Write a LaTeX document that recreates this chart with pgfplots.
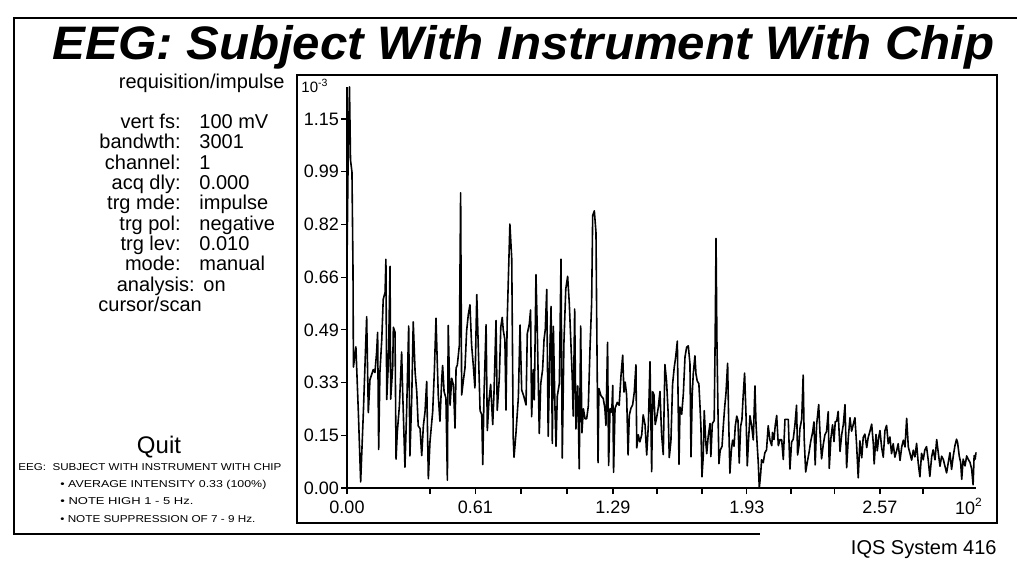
\documentclass[border=0pt]{standalone}
\usepackage{fontspec}
\setmainfont{Liberation Sans}
\newfontfamily\titlefont{Liberation Sans Bold Italic}
\usepackage{pgfplots}
\usepackage{pgfplotstable}
\pgfplotsset{compat=1.18}

% spectrum trace (x in axis units, y in units of 10^-3)
\pgfplotstableread{
x y
0.000 0.700
0.005 1.000
0.012 1.250
0.017 1.022
0.024 0.985
0.029 0.680
0.031 0.377
0.043 0.440
0.055 0.234
0.066 0.019
0.079 0.235
0.095 0.534
0.103 0.235
0.111 0.338
0.127 0.369
0.135 0.360
0.143 0.422
0.148 0.485
0.153 0.120
0.159 0.360
0.168 0.463
0.175 0.588
0.184 0.610
0.188 0.713
0.192 0.276
0.200 0.392
0.208 0.691
0.211 0.277
0.221 0.380
0.224 0.501
0.232 0.486
0.237 0.090
0.243 0.174
0.253 0.255
0.264 0.424
0.269 0.299
0.280 0.065
0.288 0.237
0.298 0.505
0.304 0.100
0.313 0.287
0.320 0.518
0.329 0.362
0.337 0.300
0.344 0.194
0.353 0.185
0.361 0.101
0.369 0.194
0.377 0.238
0.385 0.332
0.393 0.029
0.401 0.145
0.414 0.238
0.422 0.363
0.430 0.529
0.436 0.395
0.441 0.289
0.449 0.208
0.458 0.342
0.462 0.382
0.469 0.301
0.478 0.280
0.485 0.024
0.489 0.507
0.498 0.258
0.506 0.342
0.514 0.321
0.522 0.187
0.527 0.374
0.533 0.383
0.543 0.446
0.549 0.920
0.554 0.290
0.562 0.334
0.570 0.374
0.578 0.490
0.586 0.540
0.594 0.571
0.602 0.446
0.610 0.384
0.618 0.312
0.627 0.603
0.634 0.447
0.643 0.241
0.651 0.229
0.656 0.073
0.662 0.291
0.672 0.509
0.678 0.179
0.686 0.273
0.694 0.323
0.704 0.198
0.710 0.292
0.720 0.522
0.726 0.242
0.736 0.345
0.743 0.501
0.750 0.532
0.755 0.492
0.763 0.461
0.768 0.243
0.774 0.523
0.787 0.823
0.796 0.714
0.800 0.399
0.803 0.159
0.807 0.096
0.816 0.168
0.828 0.284
0.836 0.508
0.844 0.306
0.855 0.284
0.865 0.259
0.871 0.481
0.881 0.512
0.887 0.555
0.892 0.222
0.900 0.369
0.905 0.275
0.913 0.665
0.919 0.503
0.929 0.170
0.936 0.325
0.945 0.369
0.952 0.463
0.958 0.494
0.965 0.619
0.972 0.161
0.981 0.451
0.986 0.566
0.992 0.139
0.997 0.504
1.005 0.245
1.010 0.130
1.016 0.286
1.026 0.326
1.034 0.713
1.040 0.093
1.048 0.451
1.057 0.620
1.066 0.660
1.074 0.576
1.081 0.464
1.088 0.349
1.093 0.224
1.100 0.558
1.106 0.184
1.115 0.318
1.122 0.060
1.129 0.505
1.135 0.172
1.142 0.247
1.150 0.216
1.158 0.216
1.166 0.256
1.174 0.434
1.182 0.578
1.187 0.849
1.195 0.864
1.203 0.796
1.206 0.559
1.209 0.350
1.213 0.079
1.217 0.310
1.227 0.288
1.238 0.279
1.246 0.248
1.251 0.195
1.259 0.454
1.264 0.070
1.271 0.248
1.279 0.236
1.284 0.320
1.288 0.049
1.295 0.248
1.306 0.267
1.315 0.258
1.324 0.352
1.332 0.414
1.338 0.299
1.344 0.330
1.351 0.290
1.358 0.103
1.364 0.227
1.372 0.249
1.380 0.259
1.388 0.299
1.396 0.384
1.400 0.125
1.407 0.166
1.415 0.144
1.424 0.166
1.431 0.228
1.440 0.197
1.448 0.103
1.456 0.197
1.464 0.394
1.472 0.051
1.477 0.300
1.483 0.291
1.489 0.198
1.496 0.219
1.504 0.251
1.512 0.301
1.520 0.167
1.528 0.104
1.536 0.385
1.544 0.332
1.552 0.229
1.557 0.095
1.565 0.146
1.573 0.323
1.581 0.376
1.588 0.408
1.596 0.458
1.604 0.074
1.609 0.252
1.617 0.230
1.625 0.293
1.633 0.408
1.641 0.439
1.649 0.443
1.657 0.387
1.662 0.097
1.668 0.293
1.673 0.356
1.681 0.412
1.686 0.356
1.692 0.334
1.700 0.325
1.705 0.262
1.710 0.191
1.715 0.035
1.721 0.097
1.726 0.241
1.733 0.147
1.738 0.107
1.745 0.160
1.754 0.201
1.758 0.098
1.765 0.201
1.774 0.210
1.779 0.481
1.783 0.778
1.787 0.472
1.792 0.254
1.797 0.076
1.803 0.117
1.812 0.130
1.818 0.192
1.825 0.254
1.831 0.295
1.839 0.389
1.844 0.211
1.850 0.046
1.857 0.118
1.863 0.149
1.870 0.130
1.876 0.193
1.883 0.224
1.889 0.211
1.895 0.078
1.902 0.193
1.908 0.212
1.914 0.286
1.921 0.358
1.928 0.224
1.934 0.069
1.940 0.150
1.947 0.225
1.955 0.194
1.963 0.150
1.971 0.318
1.976 0.203
1.982 0.132
1.987 0.079
1.992 0.000
1.999 0.047
2.003 0.088
2.011 0.079
2.019 0.110
2.027 0.119
2.035 0.194
2.043 0.151
2.052 0.132
2.056 0.173
2.063 0.151
2.069 0.195
2.076 0.226
2.084 0.132
2.092 0.151
2.100 0.151
2.108 0.089
2.116 0.214
2.124 0.214
2.132 0.214
2.140 0.059
2.148 0.143
2.156 0.152
2.164 0.196
2.172 0.258
2.177 0.103
2.184 0.134
2.188 0.184
2.197 0.215
2.204 0.352
2.209 0.153
2.216 0.050
2.224 0.081
2.233 0.113
2.240 0.144
2.250 0.175
2.256 0.206
2.262 0.072
2.269 0.197
2.279 0.260
2.285 0.175
2.293 0.091
2.301 0.135
2.309 0.166
2.317 0.176
2.325 0.238
2.330 0.061
2.338 0.155
2.346 0.197
2.353 0.145
2.359 0.207
2.366 0.208
2.373 0.239
2.382 0.114
2.390 0.166
2.398 0.198
2.406 0.260
2.414 0.063
2.422 0.156
2.430 0.219
2.438 0.177
2.446 0.198
2.454 0.219
2.462 0.136
2.470 0.032
2.478 0.147
2.487 0.094
2.494 0.157
2.502 0.168
2.511 0.126
2.518 0.157
2.527 0.178
2.535 0.199
2.543 0.137
2.547 0.075
2.556 0.167
2.562 0.116
2.569 0.158
2.575 0.179
2.583 0.127
2.591 0.096
2.599 0.179
2.607 0.195
2.615 0.138
2.623 0.159
2.631 0.107
2.639 0.138
2.647 0.096
2.656 0.117
2.663 0.138
2.672 0.086
2.680 0.128
2.688 0.149
2.696 0.128
2.704 0.217
2.712 0.128
2.720 0.108
2.728 0.087
2.736 0.118
2.744 0.097
2.752 0.139
2.760 0.077
2.768 0.035
2.776 0.108
2.784 0.088
2.792 0.119
2.800 0.129
2.808 0.088
2.816 0.036
2.825 0.098
2.832 0.119
2.841 0.088
2.849 0.151
2.857 0.109
2.865 0.068
2.873 0.099
2.881 0.089
2.889 0.068
2.897 0.047
2.905 0.079
2.913 0.110
2.921 0.058
2.929 0.099
2.937 0.131
2.945 0.152
2.950 0.142
2.958 0.100
2.965 0.079
2.970 0.027
2.977 0.090
2.986 0.069
2.994 0.100
3.001 0.090
3.010 0.080
3.018 0.059
3.025 0.010
3.030 0.101
3.035 0.090
3.039 0.111
}\eeg

\begin{document}
\begin{tikzpicture}
\begin{scope}[x=0.5pt,y=0.5pt]
  \path[use as bounding box] (0,0) rectangle (1017,574);
  % outer sheet frame and plot frame
  \draw[line width=0.8pt] (1017,556) -- (14,556) -- (14,40) -- (760,40);
  \draw[line width=0.8pt] (297,499) rectangle (997,51);
  % title
  \node[anchor=base west, inner sep=0] at (52,514)
    {\resizebox{471pt}{\height}{\titlefont\fontsize{23.5}{23.5}\selectfont EEG: Subject With Instrument With Chip}};
  % settings panel
  \begin{scope}[every node/.style={inner sep=0}, font=\fontsize{10}{10}\selectfont]
    \node[anchor=base east] at (285,485.4) {requisition/impulse};
    \foreach \lab/\val [count=\i from 0] in {vert fs:/100 mV, bandwth:/3001, channel:/1,
        acq dly:/0.000, trg mde:/impulse, trg pol:/negative, trg lev:/0.010, mode:/manual} {
      \pgfmathsetmacro\yy{445.4-20.3*\i}
      \node[anchor=base east] at (181,\yy) {\lab};
      \node[anchor=base west] at (199,\yy) {\val};
    }
    \node[anchor=base east] at (195,283) {analysis:};
    \node[anchor=base west] at (203,283) {on};
    \node[anchor=base west] at (98,262.7) {cursor/scan};
    \node[anchor=base] at (159,120.5) {\fontsize{12}{12}\selectfont Quit};
    \node[anchor=base west] at (18,104)
      {\resizebox{131.5pt}{\height}{\fontsize{5}{5}\selectfont EEG:\ \ SUBJECT WITH INSTRUMENT WITH CHIP}};
    \node[anchor=base west] at (60,86.5)
      {\resizebox{103pt}{\height}{\fontsize{5}{5}\selectfont • AVERAGE INTENSITY 0.33 (100\%)}};
    \node[anchor=base west] at (60,69.5)
      {\resizebox{66.5pt}{\height}{\fontsize{5}{5}\selectfont • NOTE HIGH 1 - 5 Hz.}};
    \node[anchor=base west] at (60,51.5)
      {\resizebox{97.5pt}{\height}{\fontsize{5}{5}\selectfont • NOTE SUPPRESSION OF 7 - 9 Hz.}};
    \node[anchor=base east] at (997,19.5) {IQS System 416};
    \node[anchor=center] at (315,488) {\fontsize{7.5}{7.5}\selectfont 10\textsuperscript{-3}};
  \end{scope}
\end{scope}

\begin{axis}[
  at={(173.5pt,43pt)}, anchor=south west,
  scale only axis, width=314.6pt, height=200.5pt,
  xmin=0, xmax=3.04, ymin=0, ymax=1.25,
  axis lines=left, axis line style={-, line width=0.7pt},
  tick align=outside, major tick length=3pt, minor tick length=2pt,
  every tick/.style={black, line width=0.6pt},
  xtick={0,0.401,0.62,0.841,1.063,1.285,1.498,1.715,1.932,2.145,2.357,2.575,2.783},
  xticklabels={0.00,,0.61,,,1.29,,,1.93,,,2.57,},
  extra x ticks={3.005}, extra x tick labels={10\textsuperscript{2}},
  extra x tick style={major tick length=0pt, xticklabel style={yshift=-1.5pt}},
  ytick={0,0.1643,0.3286,0.4929,0.6571,0.8214,0.9857,1.15},
  yticklabels={0.00,0.15,0.33,0.49,0.66,0.82,0.99,1.15},
  yticklabel style={xshift=2.5pt},
  minor y tick num=2,
  ticklabel style={font=\fontsize{9}{9}\selectfont},
  /pgf/number format/assume math mode=true,
  clip=false,
]
\addplot[black, line width=0.8pt, line join=round, mark=none] table {\eeg};
\end{axis}
\end{tikzpicture}
\end{document}
